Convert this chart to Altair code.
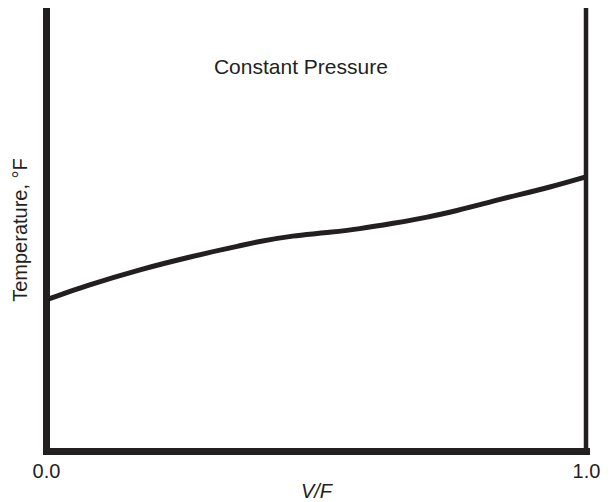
import altair as alt
import pandas as pd

# Curve (V/F fraction vs. temperature in arbitrary units, axis 0-100)
vf = [0.0, 0.081, 0.174, 0.267, 0.354, 0.396, 0.457, 0.520, 0.581, 0.643, 0.706, 0.761, 0.841, 0.933, 1.0]
temp = [34.1, 37.5, 40.9, 43.8, 46.2, 47.3, 48.5, 49.3, 50.2, 51.4, 52.8, 54.3, 56.8, 59.6, 61.9]

x_ticks = [0.0, 1.0]
note_text = ["Constant Pressure"]
note_vf = [0.472]
note_temp = [85.1]

INK = "#231f20"
FONT = "Liberation Sans"

curve_df = pd.DataFrame({"vf": vf, "temp": temp})
rule_df = pd.DataFrame({"vf": [1.0], "temp": [0.0], "temp2": [100.0]})
note_df = pd.DataFrame({"vf": note_vf, "temp": note_temp, "label": note_text})

xscale = alt.Scale(domain=[0, 1], nice=False, zero=False)
yscale = alt.Scale(domain=[0, 100], nice=False, zero=False)

x_axis = alt.Axis(
    values=x_ticks, format=".1f", title="V/F", labelFlush=False, labelOverlap=False,
    ticks=False, tickSize=0, grid=False, domainWidth=7, domainColor=INK, domainCap="square",
    labelFontSize=20, labelFont=FONT, labelColor=INK, labelPadding=26, labelBaseline="alphabetic",
    titleFontSize=20, titleFont=FONT, titleColor=INK, titleFontStyle="italic", titleFontWeight="normal",
    titleY=46, titleBaseline="alphabetic",
)
y_axis = alt.Axis(
    title="Temperature, °F", labels=False, ticks=False, tickSize=0, grid=False,
    domainWidth=7, domainColor=INK, domainCap="square",
    titleFontSize=20, titleFont=FONT, titleColor=INK, titleFontWeight="normal",
    titleX=-26, titleY=221.5, titleAngle=270, titleBaseline="middle", titleAlign="center",
)

X = alt.X("vf:Q", scale=xscale, axis=x_axis)
Y = alt.Y("temp:Q", scale=yscale, axis=y_axis)

curve = alt.Chart(curve_df).mark_line(color=INK, strokeWidth=5, interpolate="monotone").encode(x=X, y=Y)
rule = alt.Chart(rule_df).mark_rule(color=INK, strokeWidth=4.5).encode(x=X, y=Y, y2=alt.Y2("temp2"))
note = alt.Chart(note_df).mark_text(
    fontSize=21, font=FONT, color=INK, align="center", baseline="alphabetic"
).encode(x=X, y=Y, text="label:N")

chart = alt.layer(curve, rule, note).properties(
    width=540, height=443,
    autosize=alt.AutoSizeParams(type="none"),
    padding={"left": 38, "top": 0, "right": 20, "bottom": 50},
    background="white",
).configure_view(stroke="transparent")

chart.save("out.html", embed_options={"renderer": "svg", "actions": False})
